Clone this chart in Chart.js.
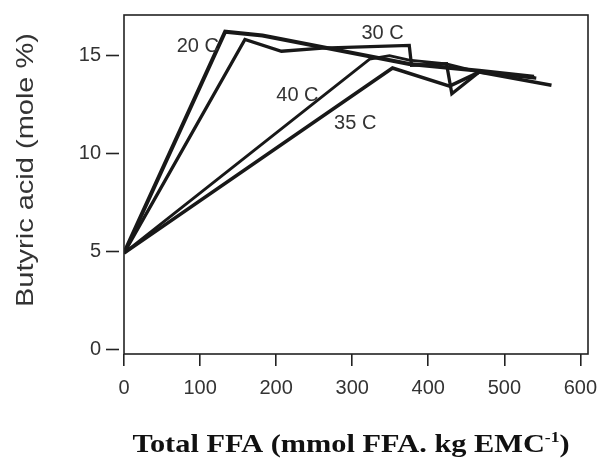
<!DOCTYPE html>
<html>
<head>
<meta charset="utf-8">
<script src="https://cdn.jsdelivr.net/npm/chart.js@4.4.1/dist/chart.umd.min.js"></script>
<style>
  html, body { margin: 0; padding: 0; background: #fff; }
  #wrap { width: 603px; height: 459px; position: relative; }
</style>
</head>
<body>
<div id="wrap"><canvas id="ffaChart"></canvas></div>
<script>
// butyric acid share against total FFA, one curve per ripening temperature
const seriesNames = ['20 C', '30 C', '40 C', '35 C'];

const ffa20 = [0, 133, 182, 375, 467, 539];
const but20 = [4.9, 16.2, 16.0, 14.55, 14.2, 13.9];

const ffa30 = [0, 159, 207, 261, 375, 378, 424, 431, 467, 542];
const but30 = [4.9, 15.8, 15.2, 15.36, 15.5, 14.48, 14.56, 13.03, 14.14, 13.83];

const ffa40 = [0, 323, 349, 375, 424, 467, 540];
const but40 = [4.9, 14.8, 14.98, 14.75, 14.56, 14.14, 13.85];

const ffa35 = [0, 353, 428, 467, 562];
const but35 = [4.9, 14.34, 13.42, 14.14, 13.46];

const xTicks = [0, 100, 200, 300, 400, 500, 600];
const yTicks = [0, 5, 10, 15];

const LABEL_FONT = '"Liberation Sans", Arial, sans-serif';
const INK = '#181818';

function toPoints(xs, ys) {
    return xs.map((x, i) => ({ x: x, y: ys[i] }));
}

function makeSet(name, xs, ys, width) {
    return {
        label: name,
        data: toPoints(xs, ys),
        borderColor: INK,
        borderWidth: width,
        borderJoinStyle: 'miter',
        pointRadius: 0,
        fill: false,
        tension: 0
    };
}

// curve names sit next to their lines, anchored in data units
const curveTags = [
    { text: '20 C', x: 97, y: 15.46 },
    { text: '30 C', x: 340, y: 16.1 },
    { text: '40 C', x: 228, y: 12.96 },
    { text: '35 C', x: 304, y: 11.5 }
];

// draws a string centred on (cx, cy), stretched to the given length
function stretchedText(ctx, parts, cx, cy, length) {
    let w = 0;
    parts.forEach(p => { ctx.font = p.font; w += ctx.measureText(p.text).width; });
    ctx.save();
    ctx.translate(cx, cy);
    ctx.scale(length / w, 1);
    let pos = -w / 2;
    parts.forEach(p => {
        ctx.font = p.font;
        ctx.fillText(p.text, pos, p.rise || 0);
        pos += ctx.measureText(p.text).width;
    });
    ctx.restore();
}

const framePlugin = {
    id: 'framePlugin',
    afterDraw(chart) {
        const { ctx, chartArea: a, scales: { x, y } } = chart;
        ctx.save();
        ctx.strokeStyle = '#222';
        ctx.lineWidth = 1.6;
        ctx.strokeRect(a.left, a.top, a.right - a.left, a.bottom - a.top);

        // y tick marks stand a little off the axis line
        yTicks.forEach(v => {
            const py = Math.round(y.getPixelForValue(v)) + 0.5;
            ctx.beginPath();
            ctx.moveTo(a.left - 18, py);
            ctx.lineTo(a.left - 5, py);
            ctx.stroke();
        });

        ctx.fillStyle = '#333';
        ctx.font = '20px ' + LABEL_FONT;
        ctx.textAlign = 'center';
        ctx.textBaseline = 'middle';
        curveTags.forEach(t => {
            ctx.fillText(t.text, x.getPixelForValue(t.x), y.getPixelForValue(t.y));
        });

        // axis titles
        ctx.textAlign = 'left';
        ctx.textBaseline = 'middle';
        ctx.save();
        ctx.translate(26, 170);
        ctx.rotate(-Math.PI / 2);
        stretchedText(ctx, [{ text: 'Butyric acid (mole %)', font: '24px ' + LABEL_FONT }], 0, 0, 274);
        ctx.restore();

        ctx.fillStyle = '#111';
        ctx.textBaseline = 'alphabetic';
        const serif = '"Liberation Serif", "Times New Roman", serif';
        stretchedText(ctx, [
            { text: 'Total FFA (mmol FFA. kg EMC', font: 'bold 26px ' + serif },
            { text: '-1', font: 'bold 15px ' + serif, rise: -10 },
            { text: ')', font: 'bold 26px ' + serif }
        ], 351, 452, 437);
        ctx.restore();
    }
};

const chart = new Chart(document.getElementById('ffaChart'), {
    type: 'line',
    data: {
        datasets: [
            makeSet(seriesNames[0], ffa20, but20, 4),
            makeSet(seriesNames[1], ffa30, but30, 3.3),
            makeSet(seriesNames[2], ffa40, but40, 2.8),
            makeSet(seriesNames[3], ffa35, but35, 3.6)
        ]
    },
    options: {
        responsive: true,
        maintainAspectRatio: false,
        animation: false,
        layout: { padding: { top: 15, right: 15, left: 0, bottom: 0 } },
        plugins: { legend: { display: false }, tooltip: { enabled: false } },
        scales: {
            x: {
                type: 'linear',
                min: 0,
                max: 610,
                afterBuildTicks: s => { s.ticks = xTicks.map(v => ({ value: v })); },
                afterFit: s => {
                    s.height = 105;
                    s.paddingLeft = 0;
                    s.paddingRight = 0;
                },
                border: { display: false },
                grid: { drawOnChartArea: false, drawTicks: true, tickLength: 12, color: '#222', lineWidth: 1.6 },
                ticks: { color: '#333', padding: 10, maxRotation: 0, font: { family: LABEL_FONT, size: 20 } }
            },
            y: {
                type: 'linear',
                min: -0.25,
                max: 17.05,
                afterBuildTicks: s => { s.ticks = yTicks.map(v => ({ value: v })); },
                afterFit: s => {
                    s.width = 124;
                    s.paddingTop = 0;
                    s.paddingBottom = 0;
                },
                border: { display: false },
                grid: { drawOnChartArea: false, drawTicks: false },
                ticks: { color: '#333', padding: 23, font: { family: LABEL_FONT, size: 20 } }
            }
        }
    },
    plugins: [framePlugin]
});
</script>
</body>
</html>
